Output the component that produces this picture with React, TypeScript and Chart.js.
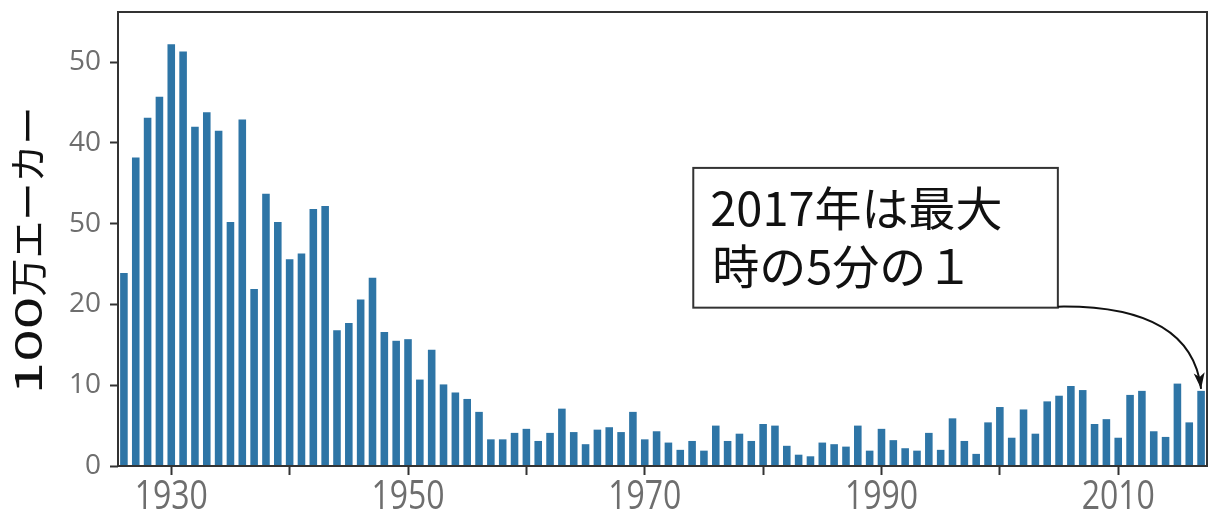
import React, { useEffect, useRef } from 'react';
import { Chart, registerables } from 'chart.js';

Chart.register(...registerables);

const years = [
  1926, 1927, 1928, 1929, 1930, 1931, 1932, 1933, 1934, 1935,
  1936, 1937, 1938, 1939, 1940, 1941, 1942, 1943, 1944, 1945,
  1946, 1947, 1948, 1949, 1950, 1951, 1952, 1953, 1954, 1955,
  1956, 1957, 1958, 1959, 1960, 1961, 1962, 1963, 1964, 1965,
  1966, 1967, 1968, 1969, 1970, 1971, 1972, 1973, 1974, 1975,
  1976, 1977, 1978, 1979, 1980, 1981, 1982, 1983, 1984, 1985,
  1986, 1987, 1988, 1989, 1990, 1991, 1992, 1993, 1994, 1995,
  1996, 1997, 1998, 1999, 2000, 2001, 2002, 2003, 2004, 2005,
  2006, 2007, 2008, 2009, 2010, 2011, 2012, 2013, 2014, 2015,
  2016, 2017,
];

// millions of acres burned
const acres = [
  23.9, 38.2, 43.1, 45.7, 52.2, 51.3, 42.0, 43.8, 41.5, 30.2,
  42.9, 21.9, 33.7, 30.2, 25.6, 26.3, 31.8, 32.2, 16.8, 17.7,
  20.6, 23.3, 16.6, 15.5, 15.7, 10.7, 14.4, 10.1, 9.1, 8.3,
  6.7, 3.3, 3.3, 4.1, 4.6, 3.1, 4.1, 7.1, 4.2, 2.7,
  4.5, 4.8, 4.2, 6.7, 3.3, 4.3, 2.9, 2.0, 3.1, 1.9,
  5.0, 3.1, 4.0, 3.1, 5.2, 5.0, 2.5, 1.4, 1.2, 2.9,
  2.7, 2.4, 5.0, 1.9, 4.6, 3.2, 2.2, 1.9, 4.1, 2.0,
  5.9, 3.1, 1.5, 5.4, 7.3, 3.5, 7.0, 4.0, 8.0, 8.7,
  9.9, 9.4, 5.2, 5.8, 3.5, 8.8, 9.3, 4.3, 3.6, 10.2,
  5.4, 9.3,
];

const yTickValues = [0, 10, 20, 30, 40, 50];
const yTickLabels = ['0', '10', '20', '50', '40', '50'];
const xTickValues = [1930, 1940, 1950, 1960, 1970, 1980, 1990, 2000, 2010];
const xTickLabels = ['1930', '', '1950', '', '1970', '', '1990', '', '2010'];
const yTitleNumber = '100';
const yTitleUnit = '万エーカー';
const noteLines = ['2017年は最大', '時の5分の１'];
const noteTargetYear = 2017;
// annotation box in data coordinates
const noteBox = { x0: 1974.1, x1: 2004.9, yTop: 36.9, yBottom: 19.6 };

const BAR = '#2e75a6';
const FRAME = '#333333';
const TICK_TEXT = '#6e6e6e';

const decorPlugin = {
  id: 'decor',
  afterDraw(chart: any) {
    const { ctx, chartArea: ca, scales } = chart;
    const x = scales.x;
    const y = scales.y;
    ctx.save();

    // frame
    ctx.strokeStyle = FRAME;
    ctx.lineWidth = 2;
    ctx.strokeRect(ca.left, ca.top, ca.right - ca.left, ca.bottom - ca.top);

    // x tick labels (condensed)
    ctx.fillStyle = TICK_TEXT;
    ctx.font = '40px "Open Sans"';
    ctx.textAlign = 'center';
    ctx.textBaseline = 'alphabetic';
    xTickValues.forEach((v, i) => {
      const lbl = xTickLabels[i];
      if (!lbl) return;
      const px = x.getPixelForValue(v);
      ctx.save();
      ctx.translate(px, ca.bottom + 43);
      ctx.scale(0.8, 1);
      ctx.fillText(lbl, 0, 0);
      ctx.restore();
    });

    // y title (rotated, reads bottom to top)
    ctx.save();
    ctx.font = '38px "Noto Sans CJK JP"';
    ctx.fillStyle = '#111';
    ctx.textBaseline = 'middle';
    ctx.textAlign = 'left';
    const numStretch = 1.55;
    const wNum = ctx.measureText(yTitleNumber).width * numStretch;
    const wUnit = ctx.measureText(yTitleUnit).width;
    const total = wNum + wUnit;
    ctx.translate(28, 250.5);
    ctx.rotate(-Math.PI / 2);
    ctx.save();
    ctx.translate(-total / 2, 0);
    ctx.scale(numStretch, 1);
    ctx.fillText(yTitleNumber, 0, 0);
    ctx.restore();
    ctx.fillText(yTitleUnit, -total / 2 + wNum, 0);
    ctx.restore();

    // annotation box
    const bx0 = x.getPixelForValue(noteBox.x0);
    const bx1 = x.getPixelForValue(noteBox.x1);
    const by0 = y.getPixelForValue(noteBox.yTop);
    const by1 = y.getPixelForValue(noteBox.yBottom);
    ctx.fillStyle = '#ffffff';
    ctx.fillRect(bx0, by0, bx1 - bx0, by1 - by0);
    ctx.strokeStyle = FRAME;
    ctx.lineWidth = 2;
    ctx.strokeRect(bx0, by0, bx1 - bx0, by1 - by0);

    ctx.fillStyle = '#111';
    ctx.font = '47px "Noto Sans CJK JP"';
    ctx.textAlign = 'left';
    ctx.textBaseline = 'middle';
    const h = by1 - by0;
    ctx.fillText(noteLines[0], bx0 + 17, by0 + h * 0.285);
    ctx.fillText(noteLines[1], bx0 + 19, by0 + h * 0.705);

    // arrow
    const idx = years.indexOf(noteTargetYear);
    const ex = x.getPixelForValue(noteTargetYear);
    const ey = y.getPixelForValue(acres[idx]) - 2;
    const sx = bx1;
    const sy = by1 - 1;
    const cx = ex - 10;
    const cy = sy - 2;
    ctx.strokeStyle = '#111';
    ctx.lineWidth = 2;
    ctx.beginPath();
    ctx.moveTo(sx, sy);
    ctx.quadraticCurveTo(cx, cy, ex, ey);
    ctx.stroke();
    const ang = Math.atan2(ey - cy, ex - cx);
    const L = 17;
    const spread = 0.33;
    ctx.fillStyle = '#111';
    ctx.beginPath();
    ctx.moveTo(ex - L * Math.cos(ang - spread), ey - L * Math.sin(ang - spread));
    ctx.lineTo(ex, ey);
    ctx.lineTo(ex - L * Math.cos(ang + spread), ey - L * Math.sin(ang + spread));
    ctx.lineTo(ex - L * 0.7 * Math.cos(ang), ey - L * 0.7 * Math.sin(ang));
    ctx.closePath();
    ctx.fill();

    ctx.restore();
  },
};

export default function App() {
  const ref = useRef<HTMLCanvasElement | null>(null);

  useEffect(() => {
    if (!ref.current) return;
    const chart = new Chart(ref.current, {
      type: 'bar',
      data: {
        datasets: [
          {
            data: years.map((yr, i) => ({ x: yr, y: acres[i] })),
            backgroundColor: BAR,
            borderWidth: 0,
            barPercentage: 0.8,
            categoryPercentage: 0.8,
          },
        ],
      },
      options: {
        responsive: false,
        animation: false,
        devicePixelRatio: 1,
        layout: { padding: { top: 12, right: 3, left: 0, bottom: 0 } },
        plugins: { legend: { display: false }, tooltip: { enabled: false } },
        scales: {
          x: {
            type: 'linear',
            min: 1925.5,
            max: 2017.5,
            offset: false,
            afterBuildTicks: (s: any) => {
              s.ticks = xTickValues.map((v) => ({ value: v }));
            },
            afterFit: (s: any) => {
              s.height = 50;
              s.paddingLeft = 0;
              s.paddingRight = 0;
            },
            grid: {
              offset: false,
              drawOnChartArea: false,
              drawTicks: true,
              tickLength: 9,
              tickColor: FRAME,
              tickWidth: 2,
            },
            border: { display: false },
            ticks: { display: false },
          },
          y: {
            min: 0,
            max: 56.2,
            afterBuildTicks: (s: any) => {
              s.ticks = yTickValues.map((v) => ({ value: v }));
            },
            afterFit: (s: any) => {
              s.width = 118;
              s.paddingTop = 0;
              s.paddingBottom = 0;
            },
            grid: {
              drawOnChartArea: false,
              drawTicks: true,
              tickLength: 8,
              tickColor: FRAME,
              tickWidth: 2,
            },
            border: { display: false },
            ticks: {
              color: TICK_TEXT,
              padding: 9,
              font: { family: '"Open Sans"', size: 28 },
              callback: (v: any) => {
                const i = yTickValues.indexOf(Number(v));
                return i >= 0 ? yTickLabels[i] : '';
              },
            },
          },
        },
      },
      plugins: [decorPlugin],
    });
    return () => chart.destroy();
  }, []);

  return (
    <div style={{ position: 'absolute', left: 0, top: 0, width: 1210, height: 516, background: '#fff' }}>
      <canvas ref={ref} width={1210} height={516} style={{ display: 'block', width: 1210, height: 516 }} />
    </div>
  );
}
